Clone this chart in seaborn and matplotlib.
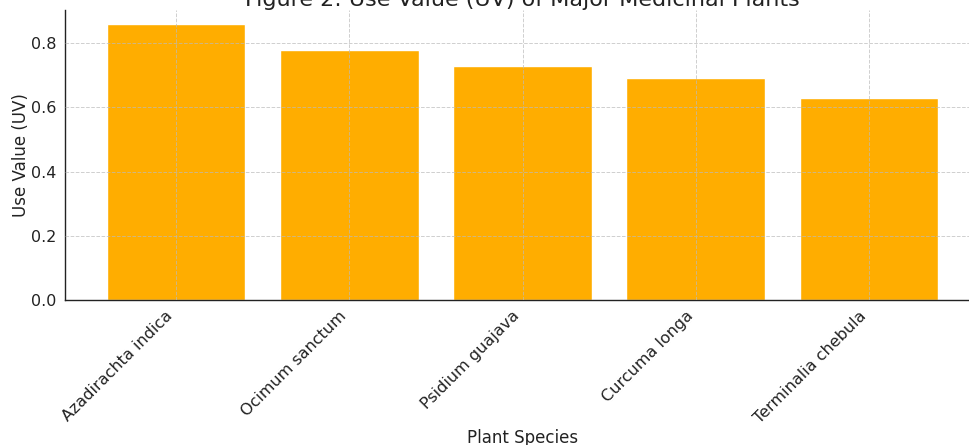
import matplotlib
matplotlib.use("Agg")
import matplotlib.pyplot as plt
import seaborn as sns
import pandas as pd

species = ["Azadirachta indica", "Ocimum sanctum", "Psidium guajava",
           "Curcuma longa", "Terminalia chebula"]
use_value = [0.86, 0.78, 0.73, 0.69, 0.63]

sns.set_style("white")
plt.rcParams["font.family"] = ["DejaVu Sans"]

df = pd.DataFrame({"Plant Species": species, "Use Value (UV)": use_value})

fig = plt.figure(figsize=(9.69, 4.45), dpi=100)
ax = fig.add_axes([65 / 969, 145 / 445, 915 / 969, 290 / 445])

sns.barplot(data=df, x="Plant Species", y="Use Value (UV)", color="#FFAD00",
            saturation=1, width=0.8, ax=ax)

ax.set_xlim(-0.64, 4.64)
ax.set_ylim(0, 0.903)
ax.set_yticks([0.0, 0.2, 0.4, 0.6, 0.8])
ax.set_yticklabels(["0.0", "0.2", "0.4", "0.6", "0.8"])

ax.set_axisbelow(False)
ax.grid(True, linestyle="--", linewidth=0.7, color="#bbbbbb", alpha=0.7)

for side in ["top", "right"]:
    ax.spines[side].set_visible(False)
for side in ["left", "bottom"]:
    ax.spines[side].set_color("#222222")
    ax.spines[side].set_linewidth(1.0)

ax.tick_params(axis="x", direction="in", length=4, width=1, color="#333333",
               labelsize=11.5, labelcolor="#222222", pad=6)
ax.tick_params(axis="y", length=0, labelsize=11.5, labelcolor="#222222", pad=6)
plt.setp(ax.get_xticklabels(), rotation=45, ha="right")

ax.set_xlabel("Plant Species", fontsize=12, color="#222222", labelpad=2)
ax.set_ylabel("Use Value (UV)", fontsize=12, color="#222222", labelpad=1)
ax.set_title("Figure 2: Use Value (UV) of Major Medicinal Plants",
             fontsize=16, color="#222222", pad=3)

fig.savefig("out.png", dpi=100)
